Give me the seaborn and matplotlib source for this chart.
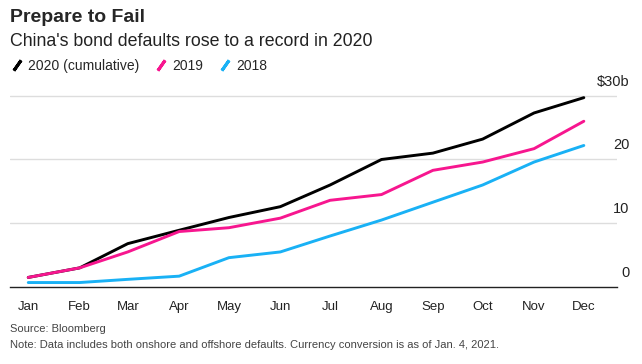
import pandas as pd
import numpy as np
import matplotlib.pyplot as plt
import matplotlib.transforms as mtransforms
from matplotlib.lines import Line2D
import seaborn as sns

# data, $ billions
months = ['Jan', 'Feb', 'Mar', 'Apr', 'May', 'Jun', 'Jul', 'Aug', 'Sep', 'Oct', 'Nov', 'Dec']
y2020 = [1.5, 3.0, 6.8, 8.9, 10.9, 12.6, 16.0, 20.0, 21.0, 23.2, 27.3, 29.7]
y2019 = [1.5, 3.0, 5.5, 8.7, 9.3, 10.8, 13.6, 14.5, 18.3, 19.6, 21.7, 26.0]
y2018 = [0.7, 0.7, 1.2, 1.7, 4.6, 5.5, 8.0, 10.5, 13.3, 16.0, 19.6, 22.2]
series_names = ['2020 (cumulative)', '2019', '2018']
colors = ['#000000', '#f7168f', '#19b1f5']
ytick_vals = [0, 10, 20, 30]
ytick_text = ['0', '10', '20', '$30b']

dates = pd.date_range('2020-01-01', periods=12, freq='MS')
df = pd.DataFrame({'date': dates, series_names[0]: y2020,
                   series_names[1]: y2019, series_names[2]: y2018})
df = df.melt(id_vars='date', var_name='series', value_name='value')

sns.set_style('white')
plt.rcParams['font.family'] = ['Liberation Sans', 'DejaVu Sans']

fig = plt.figure(figsize=(6.42, 3.64), dpi=100)
ax = fig.add_axes([10 / 642, 1 - 287 / 364, 607 / 642, (287 - 90) / 364])

sns.lineplot(data=df, x='date', y='value', hue='series', hue_order=series_names,
             palette=colors, linewidth=2.1, ax=ax, legend=False)

ax.set_xlim(pd.Timestamp('2019-12-21'), pd.Timestamp('2020-12-21'))
ax.set_ylim(0, 30.9)
ax.set_xticks(dates)
ax.set_xticklabels(months, fontsize=9.5, color='#222222')
ax.set_yticks(ytick_vals)
ax.set_yticklabels([])
ax.tick_params(axis='x', length=5, width=1, color='#333333', pad=5, direction='out')
ax.tick_params(axis='y', length=0)
ax.set_xlabel('')
ax.set_ylabel('')
for v in ytick_vals[1:]:
    ax.axhline(v, color='#dddddd', lw=1, zorder=0)
for s in ['top', 'right', 'left']:
    ax.spines[s].set_visible(False)
ax.spines['bottom'].set_color('#222222')
ax.spines['bottom'].set_linewidth(1)

tr = mtransforms.blended_transform_factory(ax.transAxes, ax.transData)
for v, t in zip(ytick_vals, ytick_text):
    ax.text(1.021, v + 1.1, t, transform=tr, ha='right', va='bottom',
            fontsize=10.5, color='#222222')

fig.text(10 / 642, 1 - 17 / 364, 'Prepare to Fail', fontsize=14, fontweight='bold',
         va='center', ha='left')
fig.text(10 / 642, 1 - 41 / 364, "China's bond defaults rose to a record in 2020",
         fontsize=12.8, va='center', ha='left', color='#222222')

handles = [Line2D([], [], linestyle='none', marker=(2, 2, -35), markersize=9,
                  markeredgewidth=2.2, color=c) for c in colors]
fig.legend(handles, series_names, loc='center left', ncol=3,
           bbox_to_anchor=(4 / 642, 1 - 66 / 364), frameon=False, fontsize=10,
           handlelength=1.0, handletextpad=0.3, columnspacing=1.1, borderaxespad=0)

fig.text(10 / 642, 1 - 329 / 364, 'Source: Bloomberg', fontsize=8, color='#444444',
         va='center', ha='left')
fig.text(10 / 642, 1 - 345 / 364,
         'Note: Data includes both onshore and offshore defaults. Currency conversion is as of Jan. 4, 2021.',
         fontsize=8, color='#444444', va='center', ha='left')

fig.savefig('out.png', dpi=100)
